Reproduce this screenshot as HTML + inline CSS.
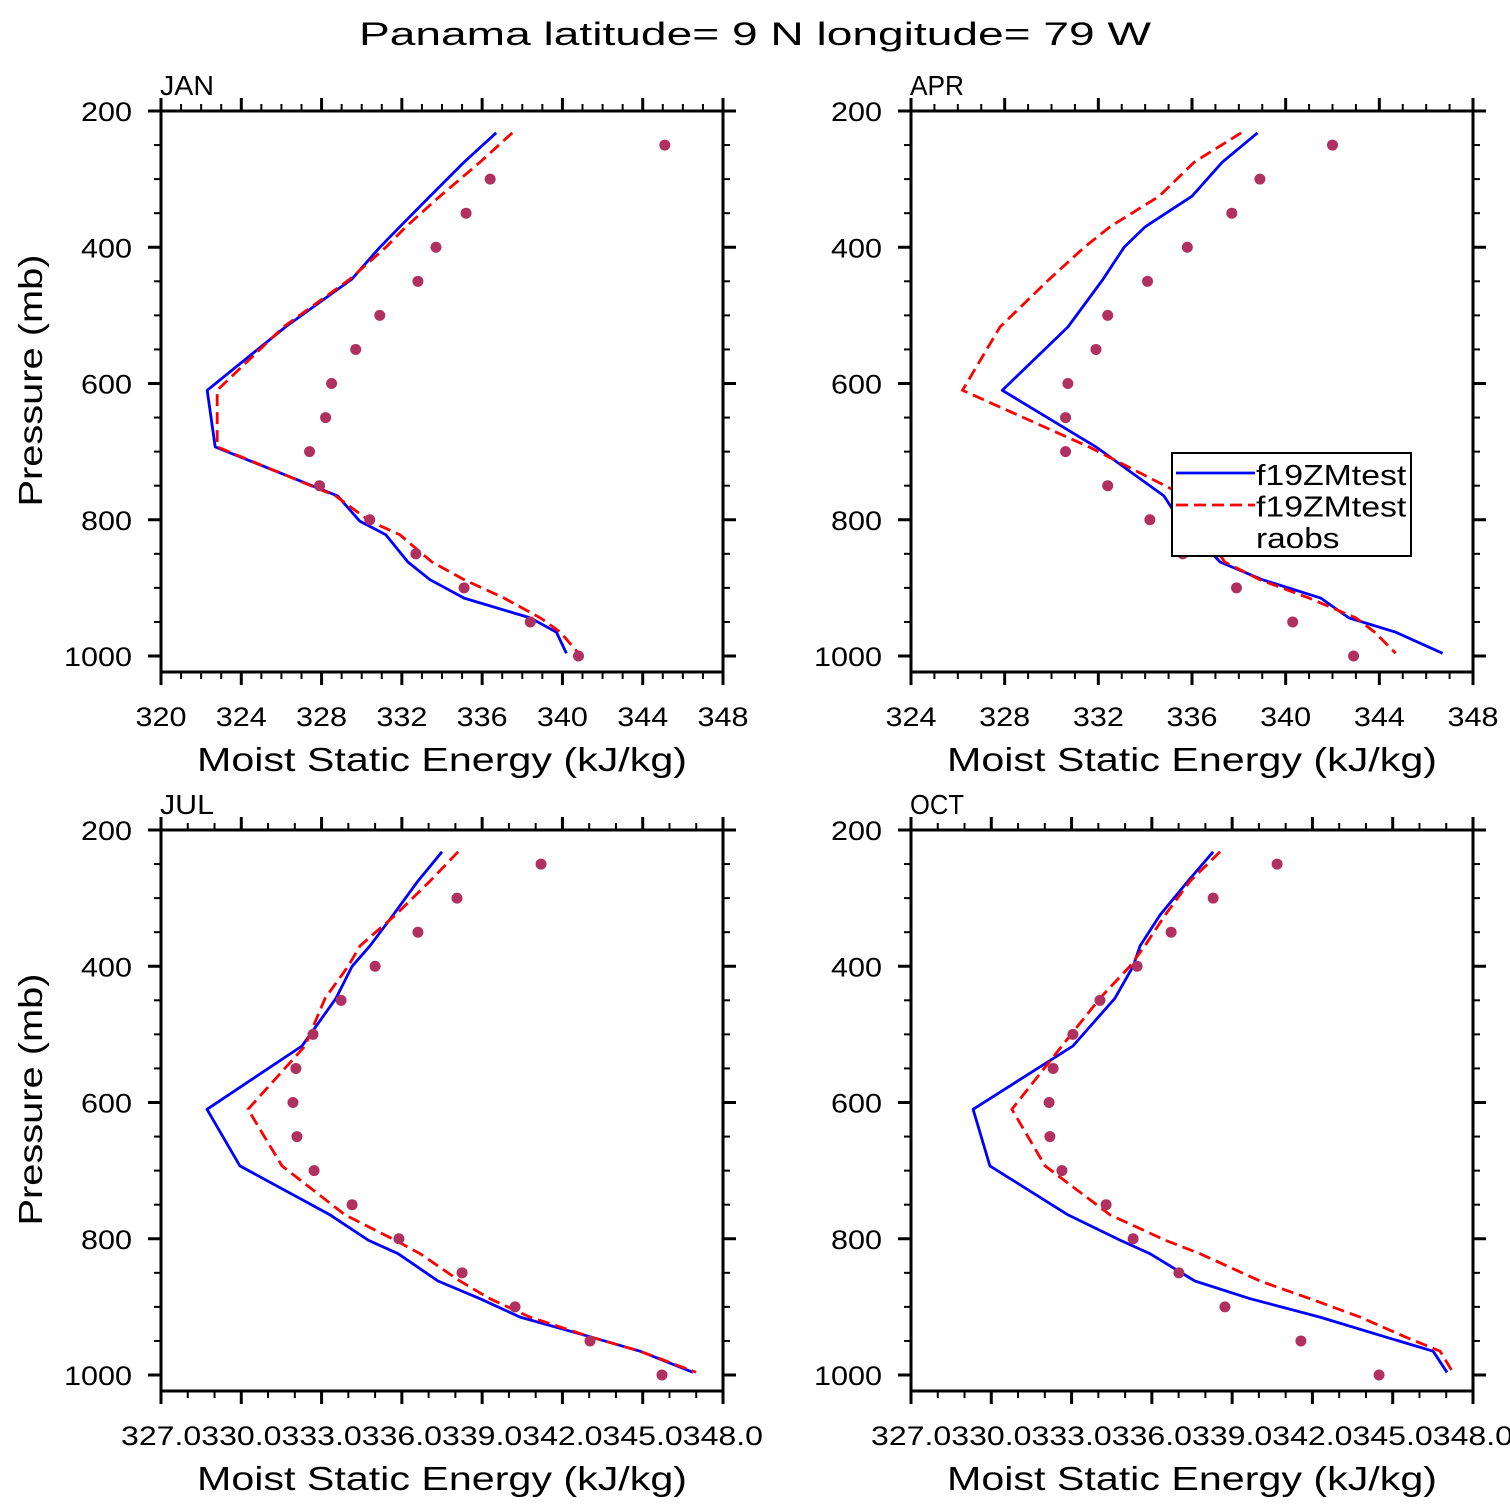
<!DOCTYPE html>
<html><head><meta charset="utf-8"><style>
html,body{margin:0;padding:0;background:#fff}
svg{display:block}
text{font-family:"Liberation Sans",sans-serif;fill:#000}
</style></head><body>
<svg id="chart" width="1510" height="1510" viewBox="0 0 1510 1510" xmlns="http://www.w3.org/2000/svg">
<rect width="1510" height="1510" fill="#fff"/>
<text x="755" y="45" font-size="32" text-anchor="middle" textLength="792" lengthAdjust="spacingAndGlyphs">Panama  latitude= 9 N longitude= 79 W</text>
</svg>
<script>
// Model levels (mb)
const modelLevels = [232,275,325,370,400,447,517,610,693,765,802,822,862,888,915,944,965,996];
const obsLevels = [250,300,350,400,450,500,550,600,650,700,750,800,850,900,950,1000];
const obsLevelsApr = [250,300,350,400,450,500,550,600,650,700,750,800,825,850,900,950,1000];

const janBlue = [336.7,335.1,333.4,331.9,330.9,329.5,326.2,322.3,322.7,328.8,329.9,331.2,332.3,333.4,335.1,338.4,339.7,340.2];
const janRed  = [337.5,335.9,333.9,332.2,331.2,329.4,326.1,322.8,322.8,328.7,330.4,331.9,333.5,335.1,337.1,338.9,339.9,340.8];
const janObs  = [345.1,336.4,335.2,333.7,332.8,330.9,329.7,328.5,328.2,327.4,327.9,330.4,332.7,335.1,338.4,340.8];

const aprBlue = [338.8,337.3,336.0,334.0,333.1,332.2,330.7,327.9,331.9,334.8,335.5,336.1,337.2,339.0,341.5,342.7,344.7,346.7];
const aprRed  = [338.1,336.1,334.6,332.5,331.4,329.9,327.8,326.2,331.6,335.7,336.1,336.6,337.4,338.9,341.0,343.0,343.8,344.7];
const aprObs  = [342.0,338.9,337.7,335.8,334.1,332.4,331.9,330.7,330.6,330.6,332.4,334.2,337.1,335.6,337.9,340.3,342.9];

const julBlue = [337.53,336.63,335.70,334.84,334.17,333.57,332.30,328.75,329.98,333.35,334.77,335.89,337.38,338.95,340.45,343.07,344.93,346.91];
const julRed  = [338.13,337.08,335.78,334.47,334.02,333.16,332.41,330.28,331.55,333.91,335.77,336.71,338.20,339.32,340.82,343.06,344.93,347.02];
const julObs  = [341.23,338.09,336.63,335.03,333.76,332.71,332.07,331.96,332.11,332.75,334.17,335.92,338.28,340.26,343.06,345.75];

const octBlue = [338.32,337.38,336.33,335.59,335.33,334.65,333.08,329.35,329.98,332.90,334.84,335.96,337.64,339.70,342.31,344.74,346.54,347.06];
const octRed  = [338.58,337.46,336.52,335.77,335.21,334.09,332.67,330.80,332.04,334.47,336.52,337.83,340.07,341.94,343.81,345.49,346.80,347.28];
const octObs  = [340.71,338.32,336.75,335.48,334.09,333.08,332.34,332.19,332.22,332.67,334.32,335.33,337.04,338.76,341.60,344.52];

const yTickLabels = ["200","400","600","800","1000"];
const janXTicks = ["320","324","328","332","336","340","344","348"];
const aprXTicks = ["324","328","332","336","340","344","348"];
const julXTicks = ["327.03","330.03","333.03","336.03","339.03","342.03","345.03","348.0"];
const octXTicks = ["327.03","330.03","333.03","336.03","339.03","342.03","345.03","348.0"];
const legendLabels = ["f19ZMtest","f19ZMtest","raobs"];

const NS = "http://www.w3.org/2000/svg";
const svg = document.getElementById("chart");
function mk(tag, attrs, parent){const e=document.createElementNS(NS,tag);for(const k in attrs)e.setAttribute(k,attrs[k]);(parent||svg).appendChild(e);return e;}

function panel(cfg){
  const g = mk("g",{});
  
  
  const X0=cfg.x0, X1=cfg.x0+562, Y0=cfg.y0, Y1=cfg.y0+561;
  const xs = v => X0 + (v-cfg.xmin)/(cfg.xmax-cfg.xmin)*(X1-X0);
  const ys = p => Y0 + (p-200)*0.68125;
  for(let p=200;p<=1000;p+=50){
    const maj = p%200===0, L = maj?13:7, y=ys(p);
    mk("line",{x1:X0-L,y1:y,x2:X0,y2:y,stroke:"#000","stroke-width":maj?3:2},g);
    mk("line",{x1:X1,y1:y,x2:X1+L,y2:y,stroke:"#000","stroke-width":maj?3:2},g);
  }
  yTickLabels.forEach((t,i)=>{
    const tx=mk("text",{x:X0-29,y:ys(200+i*200)+10,"font-size":27,"text-anchor":"end",textLength:t.length*17,lengthAdjust:"spacingAndGlyphs"},g);
    
    
    tx.textContent=t;
  });
  for(let v=cfg.xmin; v<=cfg.xmax+1e-6; v+=cfg.minor){
    const k=Math.round((v-cfg.xmin)/cfg.minor), maj = k%cfg.every===0, L=maj?13:7, x=xs(v);
    mk("line",{x1:x,y1:Y0-L,x2:x,y2:Y0,stroke:"#000","stroke-width":maj?3:2},g);
    mk("line",{x1:x,y1:Y1,x2:x,y2:Y1+L,stroke:"#000","stroke-width":maj?3:2},g);
  }
  if(cfg.joinTicks){
    const tx=mk("text",{x:(X0+X1)/2,y:Y1+54,"font-size":27,"text-anchor":"middle",textLength:642,lengthAdjust:"spacingAndGlyphs"},g);
    
    
    tx.textContent=cfg.xticks.map((s,i)=>i===0?s:s.slice(1)).join("");
  } else {
    cfg.xticks.forEach(t=>{
      const tx=mk("text",{x:xs(+t),y:Y1+54,"font-size":27,"text-anchor":"middle",textLength:t.length*17,lengthAdjust:"spacingAndGlyphs"},g);
      
      
      tx.textContent=t;
    });
  }
  mk("rect",{x:X0,y:Y0,width:X1-X0,height:Y1-Y0,fill:"none",stroke:"#000","stroke-width":3},g);
  const ttl=mk("text",{x:X0-1,y:Y0-16,"font-size":28,textLength:54,lengthAdjust:"spacingAndGlyphs"},g);
  
  
  ttl.textContent=cfg.title;
  const xt=mk("text",{x:(X0+X1)/2,y:Y1+99,"font-size":33,"text-anchor":"middle",textLength:490,lengthAdjust:"spacingAndGlyphs"},g);
  
  
  xt.textContent="Moist Static Energy (kJ/kg)";
  if(cfg.ylabel){
    const yt=mk("text",{x:0,y:0,"font-size":33,"text-anchor":"middle",textLength:252,lengthAdjust:"spacingAndGlyphs",transform:`translate(42,${(Y0+Y1)/2-11}) rotate(-90)`},g);
    
    
    yt.textContent="Pressure (mb)";
  }
  const pts = arr => arr.map((v,i)=>xs(v).toFixed(1)+","+ys(modelLevels[i]).toFixed(1)).join(" ");
  const b=mk("polyline",{points:pts(cfg.blue),fill:"none",stroke:"#0000ff","stroke-width":2.8,"stroke-linejoin":"round"},g);
  
  
  const r=mk("polyline",{points:pts(cfg.red),fill:"none",stroke:"#ff0000","stroke-width":2.8,"stroke-dasharray":"12 6"},g);
  
  
  cfg.obs.forEach((v,i)=>{
    const c=mk("circle",{cx:xs(v),cy:ys(cfg.obsP[i]),r:5.5,fill:"#b03060"},g);
    
    
  });
}
panel({name:"jan",title:"JAN",x0:161,y0:111,xmin:320,xmax:348,minor:1,every:4,xticks:janXTicks,blue:janBlue,red:janRed,obs:janObs,obsP:obsLevels,ylabel:true});
panel({name:"apr",title:"APR",x0:911,y0:111,xmin:324,xmax:348,minor:1,every:4,xticks:aprXTicks,blue:aprBlue,red:aprRed,obs:aprObs,obsP:obsLevelsApr,ylabel:false});
panel({name:"jul",title:"JUL",x0:161,y0:830,xmin:327.03,xmax:348.03,minor:1,every:3,xticks:julXTicks,joinTicks:true,blue:julBlue,red:julRed,obs:julObs,obsP:obsLevels,ylabel:true});
panel({name:"oct",title:"OCT",x0:911,y0:830,xmin:327.03,xmax:348.03,minor:1,every:3,xticks:octXTicks,joinTicks:true,blue:octBlue,red:octRed,obs:octObs,obsP:obsLevels,ylabel:false});

const lg=mk("g",{});


mk("rect",{x:1172,y:453,width:239,height:103,fill:"#fff",stroke:"#000","stroke-width":2},lg);
mk("line",{x1:1176,y1:473,x2:1255,y2:473,stroke:"#0000ff","stroke-width":2.8},lg);
mk("line",{x1:1176,y1:505,x2:1255,y2:505,stroke:"#ff0000","stroke-width":2.8,"stroke-dasharray":"12 6"},lg);
legendLabels.forEach((t,i)=>{
  const tx=mk("text",{x:1256,y:485+i*31.5,"font-size":29,textLength:t.length*16.7,lengthAdjust:"spacingAndGlyphs"},lg);
  
  
  tx.textContent=t;
});
</script>
</body></html>
